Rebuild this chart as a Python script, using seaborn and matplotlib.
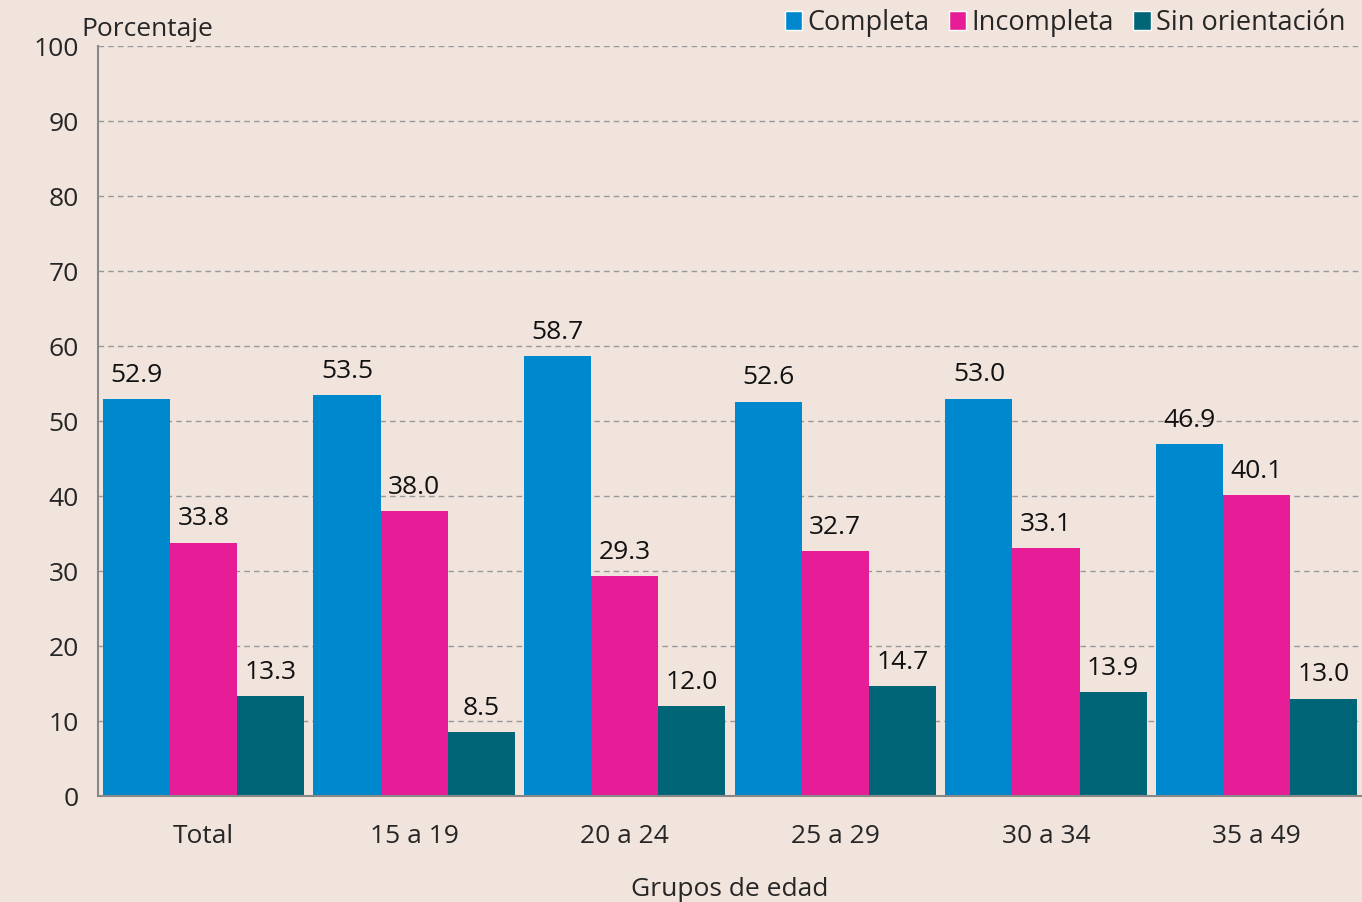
import matplotlib
matplotlib.use("Agg")
from matplotlib import pyplot as plt
from matplotlib.ticker import FixedLocator, NullFormatter
from matplotlib.patches import Patch
from pandas import DataFrame
import seaborn as sns

groups = ["Total", "15 a 19", "20 a 24", "25 a 29", "30 a 34", "35 a 49"]
series = ["Completa", "Incompleta", "Sin orientación"]
completa = [52.9, 53.5, 58.7, 52.6, 53.0, 46.9]
incompleta = [33.8, 38.0, 29.3, 32.7, 33.1, 40.1]
sin_orientacion = [13.3, 8.5, 12.0, 14.7, 13.9, 13.0]

colors = ["#0088CE", "#E71D98", "#006677"]
bg = "#F1E4DD"

df = DataFrame({
    "grupo": groups * 3,
    "serie": [s for s in series for _ in groups],
    "valor": completa + incompleta + sin_orientacion,
})

sns.set_style("white")
plt.rcParams["font.family"] = ["Open Sans", "DejaVu Sans"]
fs = 19

fig = plt.figure(figsize=(13.62, 9.02), dpi=100, facecolor=bg)
ax = fig.add_axes([0.072, 0.1175, 0.928, 0.8315])
ax.set_facecolor(bg)

sns.barplot(data=df, x="grupo", y="valor", hue="serie", order=groups,
            hue_order=series, palette=colors, width=0.955, saturation=1,
            edgecolor="none", errorbar=None, legend=False, ax=ax)

for cont in ax.containers:
    ax.bar_label(cont, fmt="%.1f", padding=8, fontsize=fs, color="#111111")

ax.set_ylim(0, 100)
ax.set_xlim(-0.5, 5.5)
ax.set_yticks(range(0, 101, 10))
ax.yaxis.grid(True, linestyle=(0, (4, 3)), color="#999999", linewidth=1)
ax.set_axisbelow(True)

ax.xaxis.set_major_locator(FixedLocator([i - 0.5 for i in range(7)]))
ax.xaxis.set_major_formatter(NullFormatter())
ax.xaxis.set_minor_locator(FixedLocator(range(6)))
ax.set_xticklabels(groups, minor=True)
ax.tick_params(axis="x", which="major", length=8, width=1.5, color="#888888", direction="out")
ax.tick_params(axis="x", which="minor", length=0, pad=20, labelsize=fs)
ax.tick_params(axis="y", length=10, width=1.5, color="#888888", labelsize=fs, pad=4)

for s in ["top", "right"]:
    ax.spines[s].set_visible(False)
for s in ["left", "bottom"]:
    ax.spines[s].set_color("#888888")
    ax.spines[s].set_linewidth(1.5)

ax.set_xlabel("Grupos de edad", fontsize=fs, labelpad=20)
ax.set_ylabel("")
fig.text(0.06, 0.953, "Porcentaje", fontsize=fs, ha="left", va="bottom")

handles = [Patch(facecolor=c, label=s) for c, s in zip(colors, series)]
fig.legend(handles=handles, loc="upper right", bbox_to_anchor=(1.0, 1.008), ncol=3,
           frameon=False, fontsize=19.5, handlelength=0.65, handleheight=0.65,
           handletextpad=0.2, columnspacing=0.7, borderaxespad=0.2)

fig.savefig("out.png", dpi=100, facecolor=bg)
